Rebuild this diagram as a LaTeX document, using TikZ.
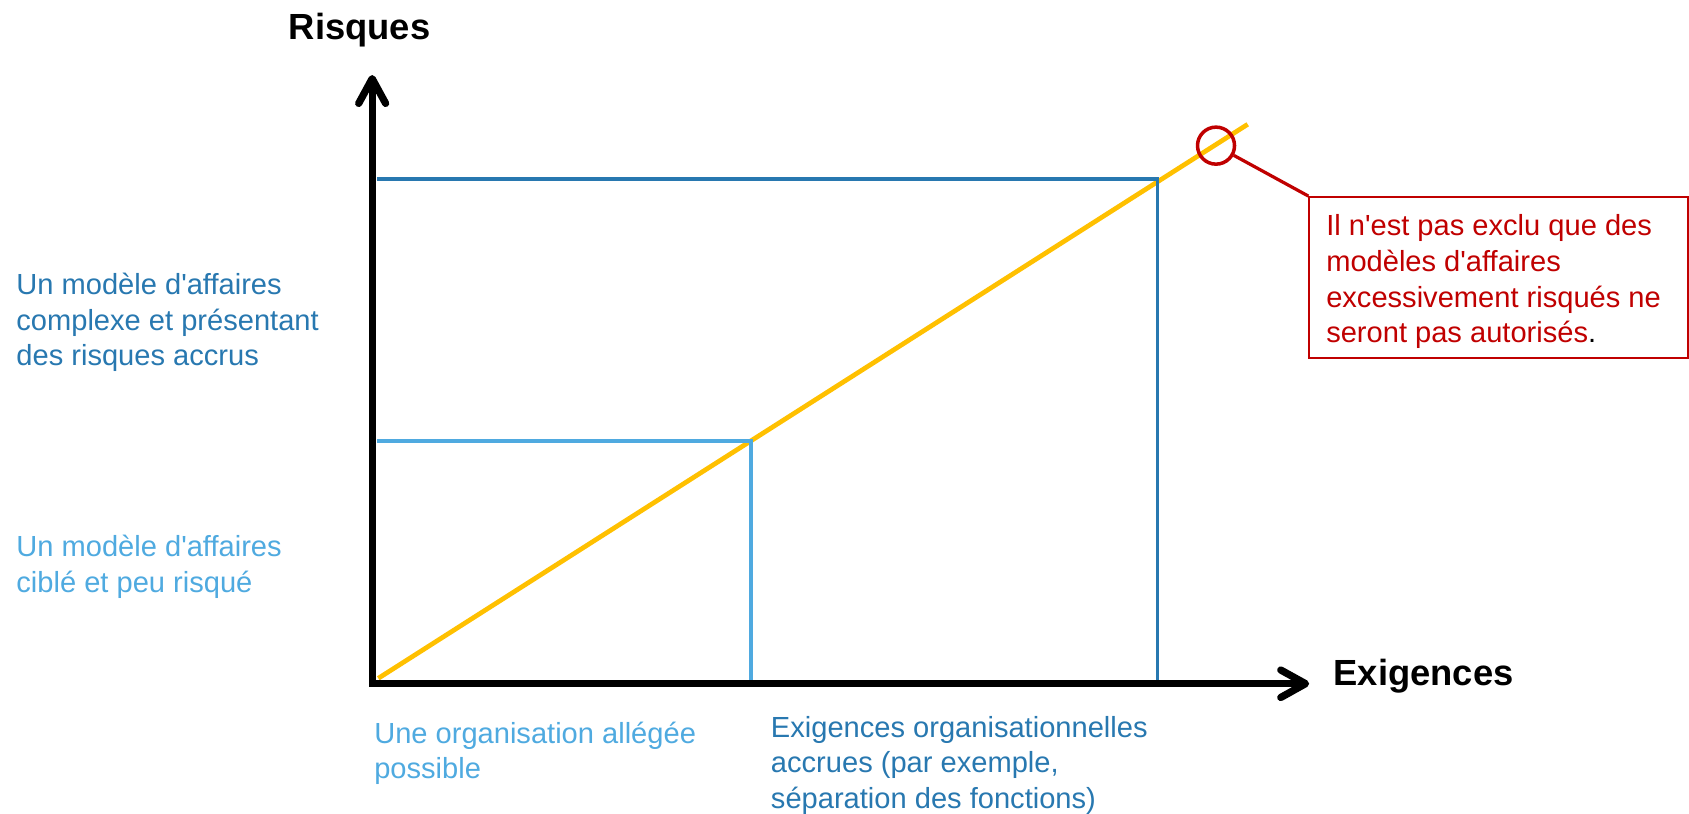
\documentclass[tikz,border=0pt]{standalone}
\usepackage{fontspec}
\setmainfont{Liberation Sans}
\definecolor{dblue}{RGB}{40,120,176}
\definecolor{lblue}{RGB}{79,170,224}
\definecolor{dred}{RGB}{192,0,0}
\definecolor{gold}{RGB}{255,192,0}
\newcommand{\qs}{\textquotesingle}
\begin{document}
\begin{tikzpicture}[x=0.8pt,y=-0.8pt,
  txt/.style={anchor=base west, inner sep=0pt, font=\fontsize{21.6}{26.4}\selectfont},
  ttl/.style={anchor=base west, inner sep=0pt, font=\fontsize{27}{32}\selectfont\bfseries},
  axisline/.style={line width=5.4pt, black, line join=miter},
  chevron/.style={line width=5.4pt, black, line cap=round, line join=round},
  dline/.style={line width=2.6pt, dblue},
  lline/.style={line width=2.6pt, lblue},
  trend/.style={line width=3.5pt, gold},
  callout/.style={line width=2.4pt, dred},
]
\useasboundingbox (0,0) rectangle (1568,755);

% key coordinates
\coordinate (origin) at (345.5,634.7);
\coordinate (ytip) at (345.5,73);
\coordinate (xtip) at (1212,634.7);
\coordinate (yw1) at (333,96);
\coordinate (yw2) at (358,96);
\coordinate (xw1) at (1189,622);
\coordinate (xw2) at (1189,647.5);

\coordinate (tstart) at (351.2,629.7);
\coordinate (tend) at (1158.3,115.4);

\coordinate (d1) at (350.3,166);
\coordinate (d2) at (1074.4,166);
\coordinate (d3) at (1074.4,632);
\coordinate (l1) at (350.3,409.4);
\coordinate (l2) at (697,409.4);
\coordinate (l3) at (697,632);

% trend line
\draw[trend] (tstart) -- (tend);

% guide lines
\draw[dline] (d1) -- (d2) -- (d3);
\draw[lline] (l1) -- (l2) -- (l3);

% axes
\draw[axisline] (ytip) -- (origin) -- (xtip);
\draw[chevron] (yw1) -- (ytip) -- (yw2);
\draw[chevron] (xw1) -- (xtip) -- (xw2);

% axis titles
\node[ttl] (risques) at (268,37) {Risques};
\node[ttl] (exig) at (1237.8,636) {Exigences};

% left labels
\node[txt, text=dblue] (lhigh) at (15,273.5)
  {\vtop{\hbox{Un modèle d\qs affaires}\hbox{complexe et présentant}\hbox{des risques accrus}}};
\node[txt, text=lblue] (llow) at (15,517)
  {\vtop{\hbox{Un modèle d\qs affaires}\hbox{ciblé et peu risqué}}};

% bottom labels
\node[txt, text=lblue] (blow) at (347.2,690)
  {\vtop{\hbox{Une organisation allégée}\hbox{possible}}};
\node[txt, text=dblue] (bhigh) at (715.5,684.5)
  {\vtop{\hbox{Exigences organisationnelles}\hbox{accrues (par exemple,}\hbox{séparation des fonctions)}}};

% callout
\node[draw=dred, line width=2.6pt, circle, minimum size=27.5pt, inner sep=0pt] (circ) at (1128.9,135.2) {};
\node[draw=dred, line width=1.6pt, rectangle, anchor=north west, inner sep=0pt,
      minimum width=281.4pt, minimum height=119.2pt] (box) at (1214.6,182) {};
\draw[callout] (circ) -- (box.north west);
\node[txt, text=dred] (boxtext) at (1231,219)
  {\vtop{\hbox{Il n\qs est pas exclu que des}\hbox{modèles d\qs affaires}\hbox{excessivement risqués ne}\hbox{seront pas autorisés\textcolor{black}{.}}}};
\end{tikzpicture}
\end{document}
